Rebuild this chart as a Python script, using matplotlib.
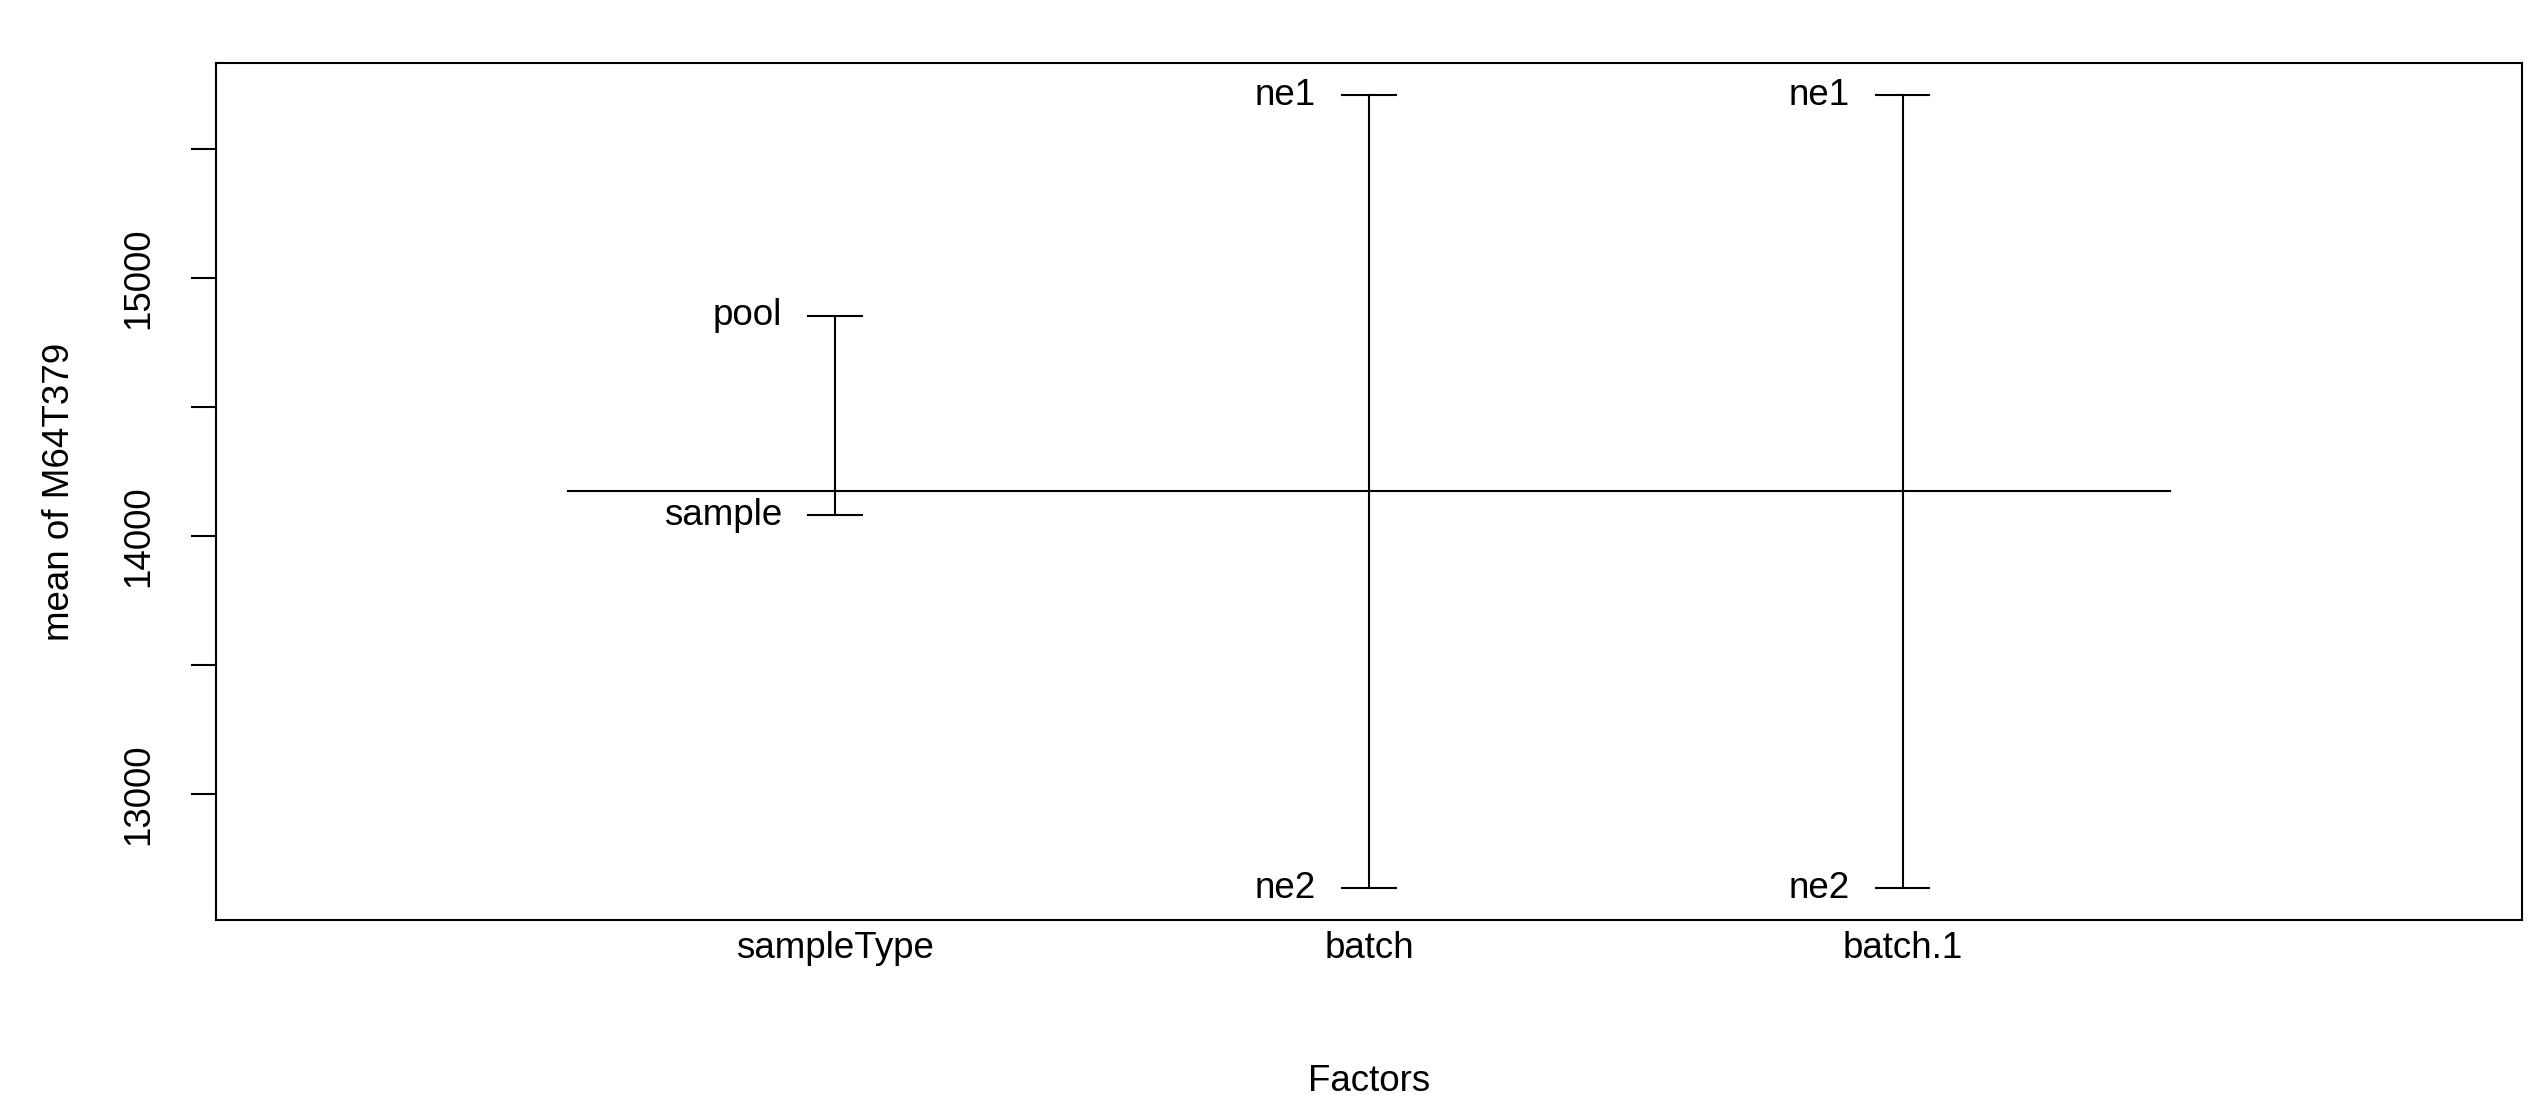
import matplotlib
matplotlib.use("Agg")
import matplotlib.pyplot as plt

plt.rcParams['font.family'] = ['Liberation Sans', 'DejaVu Sans']

# plot.design style: mean of response per factor level
factors = ["sampleType", "batch", "batch.1"]
levels = [["pool", "sample"], ["ne1", "ne2"], ["ne1", "ne2"]]
level_means = [[14855, 14082], [15711, 12635], [15711, 12635]]
grand_mean = 14176

ytick_vals = [13000, 13500, 14000, 14500, 15000, 15500]
ytick_labels = ["13000", "", "14000", "", "15000", ""]

fs = 26.5
lw = 1.5

fig = plt.figure(figsize=(25.41, 11.07), dpi=100)
ax = fig.add_axes([0.0850, 0.1689, 0.9075, 0.7739])

nf = len(factors)
for i, (labs, vals) in enumerate(zip(levels, level_means), start=1):
    ax.plot([i, i], [min(vals), max(vals)], color="black", lw=lw)
    for lab, v in zip(labs, vals):
        ax.plot([i - 0.05, i + 0.05], [v, v], color="black", lw=lw)
        ax.text(i - 0.1, v, lab, ha="right", va="center", fontsize=fs)

ax.plot([0.5, nf + 0.5], [grand_mean, grand_mean], color="black", lw=lw)

# R-style 4% axis extension
allv = [v for vals in level_means for v in vals]
ymin, ymax = min(allv), max(allv)
d = (ymax - ymin) * 0.04
ax.set_ylim(ymin - d, ymax + d)
ax.set_xlim(0 - 0.16, nf + 1 + 0.16)

ax.set_yticks(ytick_vals)
ax.set_yticklabels(ytick_labels, rotation=90, va="center", fontsize=fs)
ax.tick_params(axis="y", length=18, width=lw, pad=25)

ax.set_xticks(range(1, nf + 1))
ax.set_xticklabels(factors, fontsize=fs)
ax.tick_params(axis="x", length=0, pad=8)

for s in ax.spines.values():
    s.set_linewidth(lw)

fig.text(0.5387, 0.0226, "Factors", ha="center", va="center", fontsize=fs)
fig.text(0.0235, 0.556, "mean of M64T379", ha="center", va="center",
         rotation=90, fontsize=fs)

fig.savefig("out.png", dpi=100)
